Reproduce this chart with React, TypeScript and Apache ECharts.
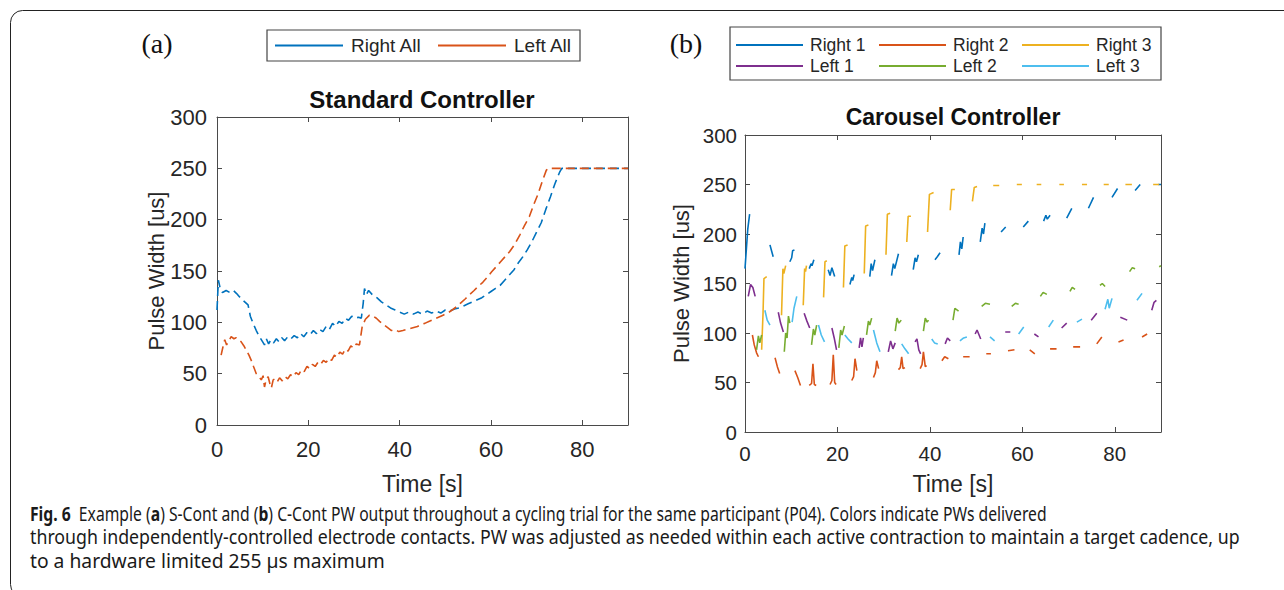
import React, { useEffect, useRef } from "react";
import * as echarts from "echarts";

// ---------- axis ranges / ticks ----------
const X_MIN = 0;
const X_MAX = 90;
const X_STEP = 20;
const Y_MIN = 0;
const Y_MAX = 300;
const Y_STEP = 50;

// ---------- panel (a) Standard Controller ----------
const rightAll: number[][] = [
  [0, 112], [0.3, 141], [0.7, 133], [1.2, 129], [2, 131], [2.8, 129], [3.6, 131], [4.3, 128], [4.9, 125],
  [5.8, 121], [6.8, 117], [7.3, 106], [7.9, 99], [8.6, 92], [9.3, 86], [10, 81], [10.4, 78], [10.8, 84],
  [11.3, 79], [11.8, 83], [12.4, 80], [13, 84], [13.6, 81], [14.2, 85], [14.8, 82], [15.5, 86], [16.2, 84],
  [16.9, 87], [17.6, 85], [18.3, 89], [19, 86], [19.7, 90], [20.4, 88], [21.1, 92], [21.8, 89], [22.5, 93],
  [23.2, 91], [23.9, 96], [24.6, 93], [25.3, 99], [26, 96], [26.7, 101], [27.4, 99], [28.1, 104], [28.8, 102],
  [29.5, 106], [30.2, 104], [31, 105], [31.6, 104], [32, 118], [32.3, 133], [32.7, 127], [33.2, 131],
  [34, 127], [35, 124], [36, 120], [37, 117], [38, 114], [39, 112], [40, 110], [41, 108], [42, 110],
  [43, 108], [44, 110], [45, 108], [46, 111], [47, 109], [48, 111], [49, 109], [50, 112], [51, 111],
  [52, 113], [53, 114], [54, 116], [55, 118], [56, 120], [57, 122], [58, 124], [59, 127], [60, 130],
  [61, 133], [62, 136], [63, 141], [64, 146], [65, 151], [66, 158], [67, 164], [68, 171], [69, 179],
  [70, 188], [71, 197], [72, 210], [73, 222], [74, 235], [75, 246], [75.5, 250], [90, 250],
];

const leftAll: number[][] = [
  [0.9, 68], [1.3, 76], [1.7, 83], [2.1, 78], [2.6, 82], [3.1, 86], [3.7, 84], [4.2, 85], [4.8, 83],
  [5.3, 81], [5.9, 77], [6.4, 73], [7, 68], [7.5, 63], [8, 57], [8.6, 50], [9.2, 47], [9.7, 44],
  [10.1, 48], [10.4, 37], [10.8, 45], [11.2, 47], [11.6, 40], [11.9, 36], [12.3, 44], [12.7, 45],
  [13.2, 42], [13.7, 46], [14.3, 43], [14.9, 47], [15.5, 45], [16.1, 49], [16.7, 47], [17.3, 51],
  [17.9, 49], [18.5, 54], [19.1, 52], [19.7, 57], [20.3, 55], [20.9, 59], [21.5, 57], [22.1, 61],
  [22.7, 59], [23.3, 63], [23.9, 61], [24.5, 65], [25.1, 63], [25.7, 68], [26.3, 66], [26.9, 71],
  [27.5, 69], [28.1, 74], [28.7, 72], [29.3, 77], [29.9, 75], [30.5, 79], [31.2, 78], [31.8, 96],
  [32.5, 103], [33.4, 107], [34.2, 106], [34.9, 104], [35.6, 101], [36.4, 98], [37.3, 95], [38.2, 92],
  [39, 93], [39.8, 91], [40.7, 92], [41.5, 93], [42.3, 94], [43.1, 95], [43.9, 96], [44.7, 98],
  [45.5, 99], [46.5, 101], [47.5, 103], [48.5, 105], [49.5, 107], [50.5, 109], [51.5, 112], [52.4, 115],
  [53.4, 119], [54.4, 123], [55.3, 127], [56.3, 131], [57.2, 135], [58.2, 139], [59.2, 144], [60.1, 149],
  [61.1, 154], [62.1, 159], [63.1, 164], [64.1, 169], [65.2, 176], [66.3, 185], [67.3, 194], [68.4, 203],
  [69.3, 214], [70.3, 225], [71.2, 237], [72.1, 248], [72.5, 250], [90, 250],
];

// ---------- panel (b) Carousel Controller (separate contraction segments) ----------
const right1Segments: number[][][] = [
  [[0, 165], [0.3, 185], [0.6, 205], [1, 220]],
  [[5.4, 189], [5.8, 182], [6.1, 177]],
  [[9.7, 172], [10.1, 176], [10.3, 183], [10.7, 184]],
  [[13.9, 165], [14.3, 170], [14.5, 168], [14.9, 174]],
  [[18, 164], [18.4, 158], [18.8, 166], [19.4, 157]],
  [[22.7, 149], [23.1, 156], [23.3, 153], [23.6, 159]],
  [[27, 157], [27.3, 170], [27.6, 163], [28.1, 174]],
  [[31.7, 158], [32.1, 170], [32.4, 165], [33.2, 180]],
  [[36.4, 164], [36.8, 176], [37.1, 172], [37.5, 179]],
  [[41.1, 174], [41.6, 177], [42.2, 181]],
  [[46.3, 179], [46.6, 192], [46.9, 185], [47.2, 197]],
  [[50.9, 192], [51.3, 206], [51.6, 200], [51.9, 211]],
  [[55.4, 202], [56.4, 207]],
  [[60.2, 207], [61.3, 213]],
  [[64.6, 213], [65.1, 219], [65.4, 215], [66, 219]],
  [[69.6, 216], [70.7, 226]],
  [[74.3, 226], [75.4, 237]],
  [[79.4, 237], [80.6, 246]],
  [[84.4, 244], [85.5, 250]],
  [[89.4, 250], [90, 250]],
];

const right2Segments: number[][][] = [
  [[1.6, 98], [2, 88], [2.5, 80], [2.9, 76]],
  [[6.5, 75], [7, 66], [7.5, 59]],
  [[10.8, 62], [11.4, 55], [12, 47]],
  [[13.9, 47], [14.4, 49], [14.7, 69], [15, 48], [15.4, 47]],
  [[18.4, 48], [18.8, 52], [19.1, 78], [19.4, 50], [19.7, 48]],
  [[23.1, 52], [23.5, 56], [23.8, 74], [24.2, 62]],
  [[27.8, 55], [28.2, 60], [28.5, 72], [28.9, 64]],
  [[33.2, 63], [33.6, 65], [33.9, 76], [34.2, 64], [34.6, 65]],
  [[37.9, 64], [38.3, 68], [38.6, 81], [39, 66], [39.3, 67]],
  [[42.6, 72], [43.2, 76], [44, 74]],
  [[47.2, 76], [48.6, 76]],
  [[52.2, 79], [53.2, 79]],
  [[56.9, 82], [58.3, 83]],
  [[61.6, 83], [62.7, 79]],
  [[66, 84], [67.4, 84]],
  [[71, 86], [72.5, 86]],
  [[76.1, 89], [77.2, 96]],
  [[80.8, 91], [81.9, 93]],
  [[85.9, 96], [87, 99]],
];

const right3Segments: number[][][] = [
  [[3.6, 83], [3.9, 120], [4.1, 155], [4.7, 157]],
  [[7.9, 118], [8.2, 165], [8.4, 160], [8.8, 168]],
  [[12.6, 128], [12.9, 165], [13.1, 162], [13.3, 168]],
  [[17, 136], [17.3, 172], [17.7, 173]],
  [[21.3, 146], [21.6, 188], [22.2, 189]],
  [[25.8, 160], [26.1, 208], [26.7, 209]],
  [[30.5, 179], [30.8, 220], [31.4, 221]],
  [[35, 192], [35.3, 218], [35.9, 218]],
  [[39.5, 202], [39.9, 240], [40.8, 242]],
  [[44.4, 224], [44.7, 245], [45.4, 245]],
  [[49.2, 233], [49.6, 247], [50.2, 248]],
  [[53.7, 249], [55, 249]],
  [[58.8, 250], [59.9, 250]],
  [[63.1, 250], [64.1, 250]],
  [[68, 250], [69, 250]],
  [[72.9, 250], [74, 250]],
  [[77.6, 250], [78.7, 250]],
  [[82.3, 250], [83.7, 250]],
  [[88.3, 250], [89.6, 250]],
];

const left1Segments: number[][][] = [
  [[0.7, 137], [1.2, 149], [1.7, 146], [2.2, 137]],
  [[7.2, 121], [7.7, 110], [8.3, 101]],
  [[12.8, 120], [13.4, 112], [14, 105]],
  [[18.8, 105], [19.3, 95], [19.8, 83]],
  [[24.7, 85], [25, 95], [25.3, 86], [25.6, 95]],
  [[31, 81], [31.5, 92], [32, 84], [32.5, 90]],
  [[36.8, 91], [37.2, 94], [37.6, 83], [38, 79]],
  [[43.3, 89], [43.8, 95], [44.4, 92]],
  [[49.8, 99], [50.2, 103], [51, 94]],
  [[56.3, 101], [57.4, 101]],
  [[62.6, 99], [63.5, 96]],
  [[68.5, 105], [69.6, 110]],
  [[74.9, 113], [76.1, 120]],
  [[81.2, 116], [82.7, 113]],
  [[88, 123], [88.5, 131], [89, 133]],
];

const left2Segments: number[][][] = [
  [[2.5, 83], [2.9, 97], [3.2, 90], [3.6, 98]],
  [[8.5, 81], [8.8, 100], [9.1, 95], [9.4, 117], [9.7, 110]],
  [[14.4, 88], [14.8, 104], [15.1, 98], [15.5, 108]],
  [[20.3, 85], [20.7, 103], [21, 98], [21.5, 107]],
  [[26.3, 98], [26.7, 112], [27, 108], [27.4, 115]],
  [[32.5, 102], [32.9, 115], [33.3, 110], [33.8, 113]],
  [[38.6, 102], [39, 115], [39.4, 111], [39.7, 113]],
  [[45, 113], [45.4, 125], [46.2, 122]],
  [[51.2, 127], [52, 130], [53, 129]],
  [[57.7, 127], [58.5, 130], [59.2, 129]],
  [[63.9, 137], [64.5, 141], [65.3, 139]],
  [[70.3, 142], [70.8, 146], [71.4, 144]],
  [[76.8, 148], [77.3, 150], [77.9, 147]],
  [[83.2, 162], [83.8, 166], [84.4, 165]],
  [[89.6, 167], [90, 168]],
];

const left3Segments: number[][][] = [
  [[4.3, 123], [4.8, 113], [5.4, 108]],
  [[10.2, 111], [10.6, 125], [11.2, 137]],
  [[15.9, 108], [16.5, 98], [17.2, 91]],
  [[21.6, 98], [22.3, 94], [23.1, 90]],
  [[27.8, 103], [28.5, 90], [29.2, 81]],
  [[33.9, 89], [34.6, 84], [35.4, 79]],
  [[40.4, 94], [41, 90], [41.7, 89]],
  [[46.5, 92], [47.3, 95], [48, 96]],
  [[53, 96], [54, 92]],
  [[59.2, 99], [60.3, 106]],
  [[65.7, 106], [66.7, 113]],
  [[71.8, 111], [72.9, 114]],
  [[77.9, 124], [78.5, 134], [78.8, 125], [79.4, 135]],
  [[84.8, 133], [85.9, 140]],
];

const seriesNamesA = ["Right All", "Left All"];
const seriesNamesB = ["Right 1", "Right 2", "Right 3", "Left 1", "Left 2", "Left 3"];
const colorsA = ["#0072BD", "#D95319"];
const colorsB = ["#0072BD", "#D95319", "#EDB120", "#7E2F8E", "#77AC30", "#4DBEEE"];

const captionLines: [string, boolean][][] = [
  [
    ["Fig. 6", true],
    ["  Example (", false],
    ["a", true],
    [") S-Cont and (", false],
    ["b", true],
    [") C-Cont PW output throughout a cycling trial for the same participant (P04). Colors indicate PWs delivered", false],
  ],
  [["through independently-controlled electrode contacts. PW was adjusted as needed within each active contraction to maintain a target cadence, up", false]],
  [["to a hardware limited 255 \u00b5s maximum", false]],
];

// ---------- styling ----------
const AX = "#4a4a4a";
const TXT = "#262626";
const FONT = '"Liberation Sans", Arial, Helvetica, sans-serif';
const CAP_FONT = '"Noto Sans", "Open Sans", sans-serif';
const CAP_SIZE = 20;

function joinSegments(segs: number[][][]): any[] {
  const out: any[] = [];
  segs.forEach((seg, i) => {
    if (i > 0) out.push([seg[0][0], "-"]);
    seg.forEach((p) => out.push(p));
  });
  return out;
}

function xAxes(gridIndex: number, labelSize: number, margin: number, nameGap: number) {
  return [
    {
      type: "value", gridIndex, position: "bottom", min: X_MIN, max: X_MAX, interval: X_STEP,
      axisLine: { show: true, onZero: false, lineStyle: { color: AX, width: 1 } },
      axisTick: { show: true, inside: true, length: 5, lineStyle: { color: AX } },
      axisLabel: { show: true, fontSize: labelSize, color: TXT, fontFamily: FONT, margin, showMaxLabel: false },
      splitLine: { show: false },
      name: "Time [s]", nameLocation: "middle", nameGap, nameMoveOverlap: false,
      nameTextStyle: { fontSize: 23, color: TXT, fontFamily: FONT },
    },
    {
      type: "value", gridIndex, position: "top", min: X_MIN, max: X_MAX, interval: X_STEP,
      axisLine: { show: true, onZero: false, lineStyle: { color: AX, width: 1 } },
      axisTick: { show: true, inside: true, length: 5, lineStyle: { color: AX } },
      axisLabel: { show: false },
      splitLine: { show: false },
    },
  ];
}

function yAxes(gridIndex: number, labelSize: number, margin: number, nameGap: number) {
  return [
    {
      type: "value", gridIndex, position: "left", min: Y_MIN, max: Y_MAX, interval: Y_STEP,
      axisLine: { show: true, onZero: false, lineStyle: { color: AX, width: 1 } },
      axisTick: { show: true, inside: true, length: 5, lineStyle: { color: AX } },
      axisLabel: { show: true, fontSize: labelSize, color: TXT, fontFamily: FONT, margin },
      splitLine: { show: false },
      name: "Pulse Width [us]", nameLocation: "middle", nameGap, nameMoveOverlap: false,
      nameTextStyle: { fontSize: 22, color: TXT, fontFamily: FONT },
    },
    {
      type: "value", gridIndex, position: "right", min: Y_MIN, max: Y_MAX, interval: Y_STEP,
      axisLine: { show: true, onZero: false, lineStyle: { color: AX, width: 1 } },
      axisTick: { show: true, inside: true, length: 5, lineStyle: { color: AX } },
      axisLabel: { show: false },
      splitLine: { show: false },
    },
  ];
}

function textWidth(ctx: CanvasRenderingContext2D | null, t: string, bold: boolean): number {
  if (!ctx) return t.length * CAP_SIZE * 0.5;
  ctx.font = `${bold ? "bold " : ""}${CAP_SIZE}px ${CAP_FONT}`;
  return ctx.measureText(t).width;
}

export default function App() {
  const ref = useRef<HTMLDivElement>(null);

  useEffect(() => {
    if (!ref.current) return;
    const chart = echarts.init(ref.current, undefined, { renderer: "svg" });

    const ctx = document.createElement("canvas").getContext("2d");
    const capTargets = [1017, 1210, 355];
    const capY = [513, 536.5, 560];
    const captionEls: any[] = [];
    captionLines.forEach((parts, i) => {
      const widths = parts.map(([t, b]) => textWidth(ctx, t, b));
      const natural = widths.reduce((a, b) => a + b, 0);
      const sx = natural > 0 ? capTargets[i] / natural : 1;
      let cursor = 30;
      parts.forEach(([t, b], j) => {
        captionEls.push({
          type: "text",
          x: cursor,
          y: capY[i],
          scaleX: sx,
          style: {
            text: t,
            fill: "#1a1a1a",
            fontSize: CAP_SIZE,
            fontWeight: b ? "bold" : "normal",
            fontFamily: CAP_FONT,
            verticalAlign: "middle",
            align: "left",
          },
        });
        cursor += widths[j] * sx;
      });
    });

    const legendCommon = {
      icon: "rect",
      itemHeight: 2,
      selectedMode: false,
      orient: "horizontal",
      padding: 0,
    };

    const option: any = {
      animation: false,
      backgroundColor: "#ffffff",
      grid: [
        { left: 217, top: 117, width: 411, height: 308, containLabel: false },
        { left: 745, top: 135, width: 416, height: 297, containLabel: false },
      ],
      xAxis: [...xAxes(0, 22, 13, 47), ...xAxes(1, 20.5, 11, 40)],
      yAxis: [...yAxes(0, 22, 10, 50), ...yAxes(1, 20.5, 8, 53)],
      legend: [
        {
          ...legendCommon,
          data: seriesNamesA,
          left: 275, top: 35.5,
          itemWidth: 68, itemGap: 15,
          textStyle: { fontSize: 19, color: TXT, fontFamily: FONT, width: 72, lineHeight: 20, padding: [0, 0, 0, 3] },
        },
        {
          ...legendCommon,
          data: seriesNamesB.slice(0, 3),
          left: 736, top: 35,
          itemWidth: 67, itemGap: 11,
          textStyle: { fontSize: 17.5, color: TXT, fontFamily: FONT, width: 58, lineHeight: 20, padding: [0, 0, 0, 2] },
        },
        {
          ...legendCommon,
          data: seriesNamesB.slice(3, 6),
          left: 736, top: 56,
          itemWidth: 67, itemGap: 11,
          textStyle: { fontSize: 17.5, color: TXT, fontFamily: FONT, width: 58, lineHeight: 20, padding: [0, 0, 0, 2] },
        },
      ],
      series: [
        {
          name: seriesNamesA[0], type: "line", xAxisIndex: 0, yAxisIndex: 0, data: rightAll,
          showSymbol: false, symbol: "none", color: colorsA[0],
          lineStyle: { color: colorsA[0], width: 1.6, type: [9, 5] },
        },
        {
          name: seriesNamesA[1], type: "line", xAxisIndex: 0, yAxisIndex: 0, data: leftAll,
          showSymbol: false, symbol: "none", color: colorsA[1],
          lineStyle: { color: colorsA[1], width: 1.6, type: [9, 5] },
        },
        ...[right1Segments, right2Segments, right3Segments, left1Segments, left2Segments, left3Segments].map((segs, i) => ({
          name: seriesNamesB[i], type: "line", xAxisIndex: 2, yAxisIndex: 2, data: joinSegments(segs),
          showSymbol: false, symbol: "none", connectNulls: false, color: colorsB[i],
          lineStyle: { color: colorsB[i], width: 1.6 },
        })),
      ],
      graphic: [
        {
          type: "rect",
          shape: { x: 10.5, y: 10.5, width: 1400, height: 586, r: 12 },
          style: { fill: "none", stroke: "#222", lineWidth: 1 },
          silent: true,
        },
        { type: "rect", shape: { x: 267, y: 30, width: 313, height: 31 }, style: { fill: "none", stroke: "#444", lineWidth: 1.2 } },
        { type: "rect", shape: { x: 730, y: 27, width: 431, height: 53 }, style: { fill: "none", stroke: "#444", lineWidth: 1.2 } },
        {
          type: "text", x: 157, y: 43,
          style: { text: "(a)", fontSize: 28, fontFamily: '"Liberation Serif", "DejaVu Serif", serif', fill: "#111", align: "center", verticalAlign: "middle" },
        },
        {
          type: "text", x: 686, y: 43,
          style: { text: "(b)", fontSize: 28, fontFamily: '"Liberation Serif", "DejaVu Serif", serif', fill: "#111", align: "center", verticalAlign: "middle" },
        },
        {
          type: "text", x: 422, y: 99,
          style: { text: "Standard Controller", fontSize: 24, fontWeight: "bold", fontFamily: FONT, fill: "#111", align: "center", verticalAlign: "middle" },
        },
        {
          type: "text", x: 953, y: 117,
          style: { text: "Carousel Controller", fontSize: 23, fontWeight: "bold", fontFamily: FONT, fill: "#111", align: "center", verticalAlign: "middle" },
        },
        ...captionEls,
      ],
    };

    chart.setOption(option);
    return () => chart.dispose();
  }, []);

  return (
    <div
      ref={ref}
      style={{ position: "absolute", left: 0, top: 0, width: 1284, height: 590, background: "#fff" }}
    />
  );
}
